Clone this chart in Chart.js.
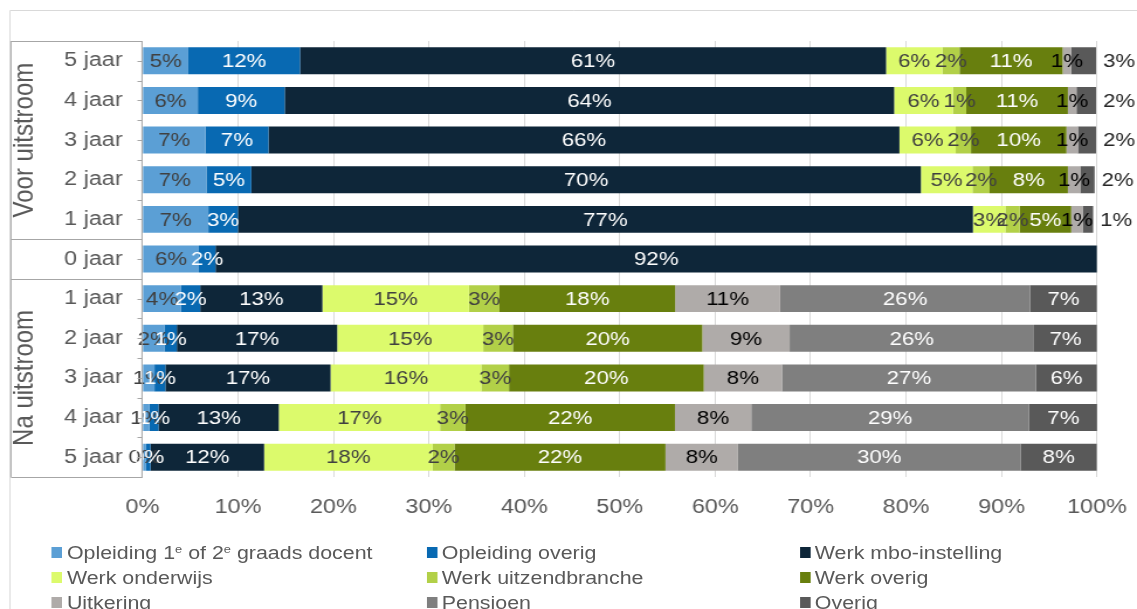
<!DOCTYPE html>
<html lang="nl">
<head>
<meta charset="utf-8">
<title>Uitstroom</title>
<script src="https://cdn.jsdelivr.net/npm/chart.js@4.4.1/dist/chart.umd.min.js"></script>
<style>
  html, body { margin: 0; padding: 0; background: #fff; overflow: hidden; }
  body { width: 1137px; height: 609px; position: relative; }
  /* the reference is stretched horizontally, so draw narrow and widen */
  #stage { position: absolute; left: 0; top: 0; width: 972px; height: 609px; transform-origin: 0 0; transform: scaleX(1.16975); }
  #chart { position: absolute; left: 0; top: 0; }
  .legend-item { position: absolute; height: 25px; display: flex; align-items: center; white-space: nowrap;
    font: 18.3px "Liberation Sans", Arial, sans-serif; color: #595959; }
  .legend-item i { display: inline-block; width: 8.9px; height: 10.5px; margin-right: 3.9px; }
  .legend-item sup { font-size: 11px; vertical-align: 6px; line-height: 0; }
</style>
</head>
<body>
<div id="stage">
  <canvas id="chart" width="972" height="609"></canvas>
  <div id="legend"></div>
</div>
<script>
const rowLabels = ["5 jaar", "4 jaar", "3 jaar", "2 jaar", "1 jaar", "0 jaar", "1 jaar", "2 jaar", "3 jaar", "4 jaar", "5 jaar"];
const groups = [
  { text: "Voor uitstroom", from: 0, to: 4 },
  { text: "", from: 5, to: 5 },
  { text: "Na uitstroom", from: 6, to: 10 }
];
const xTicks = [0, 10, 20, 30, 40, 50, 60, 70, 80, 90, 100];

const seriesNames = [
  "Opleiding 1ᵉ of 2ᵉ graads docent", "Opleiding overig", "Werk mbo-instelling",
  "Werk onderwijs", "Werk uitzendbranche", "Werk overig",
  "Uitkering", "Pensioen", "Overig"
];
const seriesColors = ["#5b9fd5", "#0869b2", "#0e2639", "#dcfa6c", "#b2d048", "#687f0e", "#afaba9", "#7f7f7f", "#595959"];
const labelColors = ["#404040", "#ffffff", "#ffffff", "#404040", "#404040", "#ffffff", "#000000", "#ffffff", "#ffffff"];

// rows: voor 5..1 jaar, 0 jaar, na 1..5 jaar
const opleidingDocent = [4.8, 5.8, 6.6, 6.7, 6.9, 5.9, 4.05, 2.3, 1.26, 0.73, 0.38];
const opleidingOverig = [11.7, 9.1, 6.6, 4.7, 3.1, 1.75, 2.0, 1.3, 1.14, 0.95, 0.46];
const werkMbo = [61.4, 63.85, 66.1, 70.15, 77.0, 92.35, 12.8, 16.8, 17.3, 12.6, 11.9];
const werkOnderwijs = [5.9, 6.15, 5.9, 5.4, 3.4, null, 15.35, 15.3, 15.8, 16.9, 17.65];
const werkUitzend = [1.8, 1.4, 1.6, 1.8, 1.5, null, 3.2, 3.1, 2.9, 2.65, 2.3];
const werkOverig = [10.8, 10.65, 10.0, 8.2, 5.4, null, 18.4, 19.85, 20.4, 21.95, 22.1];
const uitkering = [0.9, 0.9, 1.2, 1.3, 1.2, null, 11.0, 9.15, 8.2, 8.0, 7.6];
const pensioen = [null, null, null, null, null, null, 26.2, 25.6, 26.6, 29.1, 29.6];
const overig = [2.6, 2.05, 1.9, 1.5, 1.1, null, 7.0, 6.6, 6.4, 7.2, 8.0];

const seriesValues = [opleidingDocent, opleidingOverig, werkMbo, werkOnderwijs, werkUitzend, werkOverig, uitkering, pensioen, overig];

const FONT = '"Liberation Sans", Arial, sans-serif';
const GRID = "#d9d9d9";
const AXIS = "#a6a6a6";
const TEXT = "#595959";

const barLabels = {
  id: "barLabels",
  afterDatasetsDraw(chart) {
    const ctx = chart.ctx;
    const last = chart.data.datasets.length - 1;
    ctx.save();
    ctx.font = "19px " + FONT;
    ctx.textBaseline = "middle";
    chart.data.datasets.forEach((ds, i) => {
      chart.getDatasetMeta(i).data.forEach((bar, j) => {
        const v = ds.data[j];
        if (v === null || v === undefined) return;
        const text = Math.round(v) + "%";
        if (i === last && v < 3) {
          // small closing segment: label sits outside the bar
          ctx.textAlign = "left";
          ctx.fillStyle = "#262626";
          ctx.fillText(text, bar.x + 6, bar.y + 1);
        } else {
          ctx.textAlign = "center";
          ctx.fillStyle = labelColors[i];
          ctx.fillText(text, (bar.x + bar.base) / 2, bar.y + 1);
        }
      });
    });
    ctx.restore();
  }
};

const categoryFrame = {
  id: "categoryFrame",
  afterDraw(chart) {
    const { ctx, chartArea, scales } = chart;
    const y = scales.y;
    const step = y.getPixelForValue(1) - y.getPixelForValue(0);
    const boxLeft = 9.4;
    const axisX = chartArea.left;
    ctx.save();
    ctx.lineWidth = 1;

    ctx.strokeStyle = GRID;
    ctx.beginPath();
    ctx.moveTo(8.5, 609);
    ctx.lineTo(8.5, 10.5);
    ctx.lineTo(chart.width, 10.5);
    ctx.stroke();

    ctx.strokeStyle = AXIS;
    ctx.beginPath();
    ctx.moveTo(boxLeft, chartArea.top);
    ctx.lineTo(boxLeft, chartArea.bottom);
    groups.forEach(g => {
      const yy = Math.round(y.getPixelForValue(g.from) - step / 2) + 0.5;
      ctx.moveTo(boxLeft, yy);
      ctx.lineTo(axisX, yy);
    });
    const yb = Math.round(chartArea.bottom) + 0.5;
    ctx.moveTo(boxLeft, yb);
    ctx.lineTo(axisX, yb);
    ctx.moveTo(axisX - 0.4, chartArea.top);
    ctx.lineTo(axisX - 0.4, chartArea.bottom);
    for (let k = 0; k <= rowLabels.length * 2; k++) {
      const yy = Math.round(chartArea.top + k * step / 2) + 0.5;
      ctx.moveTo(axisX - 4.3, yy);
      ctx.lineTo(axisX, yy);
    }
    ctx.stroke();

    ctx.fillStyle = TEXT;
    ctx.font = "24px " + FONT;
    ctx.textAlign = "center";
    ctx.textBaseline = "middle";
    groups.forEach(g => {
      if (!g.text) return;
      const cy = (y.getPixelForValue(g.from) + y.getPixelForValue(g.to)) / 2;
      ctx.save();
      ctx.translate(21.8, cy);
      ctx.rotate(-Math.PI / 2);
      ctx.fillText(g.text, 0, 0);
      ctx.restore();
    });
    ctx.restore();
  }
};

function renderChart() {
  new Chart(document.getElementById("chart"), {
    type: "bar",
    data: {
      labels: rowLabels,
      datasets: seriesNames.map((name, i) => ({
        label: name,
        data: seriesValues[i],
        backgroundColor: seriesColors[i],
        borderWidth: 0,
        barPercentage: 0.68,
        categoryPercentage: 1
      }))
    },
    options: {
      responsive: false,
      animation: false,
      indexAxis: "y",
      layout: { padding: { top: 41, left: 0, right: 34.2, bottom: 0 } },
      plugins: { legend: { display: false }, tooltip: { enabled: false } },
      scales: {
        x: {
          stacked: true,
          min: 0,
          max: 100,
          grid: { color: GRID, drawTicks: false },
          border: { display: false },
          afterBuildTicks: s => { s.ticks = xTicks.map(v => ({ value: v })); },
          ticks: { padding: 18, color: TEXT, font: { family: FONT, size: 20 }, callback: v => v + "%" },
          afterFit: s => { s.height = 132; s.paddingLeft = 0; s.paddingRight = 0; }
        },
        y: {
          stacked: true,
          grid: { display: false, drawTicks: false },
          border: { display: false },
          ticks: { padding: 17, color: TEXT, font: { family: FONT, size: 20 } },
          afterFit: s => { s.width = 121.8; s.paddingTop = 0; s.paddingBottom = 0; }
        }
      }
    },
    plugins: [barLabels, categoryFrame]
  });
}

function renderLegend() {
  const colX = [44.4, 364.9, 683.8];
  const html = seriesNames.map((name, i) => `
    <div class="legend-item" style="left:${colX[i % 3]}px;top:${540 + 25 * Math.floor(i / 3)}px">
      <i style="background:${seriesColors[i]}"></i><span>${name.replace(/ᵉ/g, "<sup>e</sup>")}</span>
    </div>
  `).join("");
  document.getElementById("legend").innerHTML = html;
}

function init() {
  renderChart();
  renderLegend();
}

document.addEventListener("DOMContentLoaded", init);
</script>
</body>
</html>
